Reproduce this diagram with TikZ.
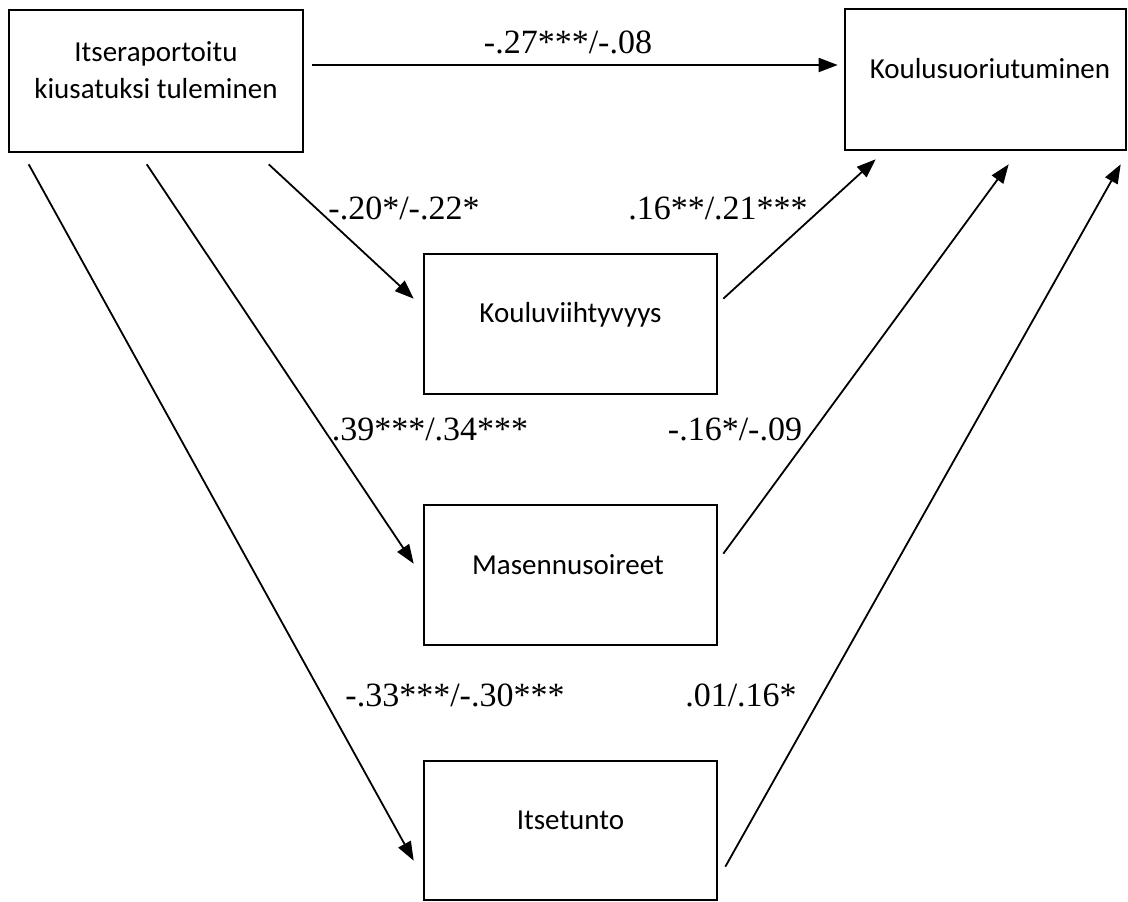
\documentclass[tikz,border=0pt]{standalone}
\usepackage{fontspec}
\setmainfont{Liberation Serif}
\newfontfamily\boxfont{Carlito}
\usetikzlibrary{arrows.meta}
\begin{document}
\begin{tikzpicture}[x=1pt,y=-1pt,
  box/.style={draw, line width=2.6pt, inner sep=0pt},
  boxtxt/.style={font=\boxfont\fontsize{29}{36}\selectfont, anchor=base, inner sep=0pt, align=center},
  coef/.style={font=\fontsize{34}{40}\selectfont, anchor=base, inner sep=0pt},
  arr/.style={line width=1.8pt, -{Triangle[length=19pt,width=14pt]}}]
\useasboundingbox (0,0) rectangle (1128,902);
% boxes
\node[box, minimum width=294pt, minimum height=142pt] (src) at (156,81) {};
\node[box, minimum width=281pt, minimum height=141pt] (tgt) at (985.5,79.5) {};
\node[box, minimum width=293pt, minimum height=140pt] (kv) at (570.5,324) {};
\node[box, minimum width=293pt, minimum height=140pt] (ms) at (570.5,575) {};
\node[box, minimum width=293pt, minimum height=139pt] (it) at (570.5,830.5) {};
% box texts
\node[boxtxt] (srct1) at (156,61) {Itseraportoitu};
\node[boxtxt] (srct2) at (156,98) {kiusatuksi tuleminen};
\node[boxtxt] (tgtt) at (990,78) {Koulusuoriutuminen};
\node[boxtxt] (kvt) at (570.5,322) {Kouluviihtyvyys};
\node[boxtxt] (mst) at (568,574) {Masennusoireet};
\node[boxtxt] (itt) at (570.5,829) {Itsetunto};
% arrows
\draw[arr] ([xshift=8pt,yshift=16pt]src.east) -- ([xshift=-6pt,yshift=14.5pt]tgt.west);
\draw[arr] ([shift={(261,11)}]src.south west) -- ([shift={(-9,46)}]kv.north west);
\draw[arr] ([shift={(139,11)}]src.south west) -- ([shift={(-9,60)}]ms.north west);
\draw[arr] ([shift={(21,11)}]src.south west) -- ([shift={(-9,101)}]it.north west);
\draw[arr] ([shift={(5,46)}]kv.north east) -- ([shift={(32,8)}]tgt.south west);
\draw[arr] ([shift={(5,50)}]ms.north east) -- ([shift={(165,13)}]tgt.south west);
\draw[arr] ([shift={(7,107)}]it.north east) -- ([shift={(277,13)}]tgt.south west);
% coefficients
\node[coef] (c1) at (568,53) {-.27***/-.08};
\node[coef] (c2) at (404,219) {-.20*/-.22*};
\node[coef] (c3) at (718,219) {.16**/.21***};
\node[coef] (c4) at (430,440) {.39***/.34***};
\node[coef] (c5) at (735,440) {-.16*/-.09};
\node[coef] (c6) at (455,706) {-.33***/-.30***};
\node[coef] (c7) at (741,706) {.01/.16*};
\end{tikzpicture}
\end{document}
